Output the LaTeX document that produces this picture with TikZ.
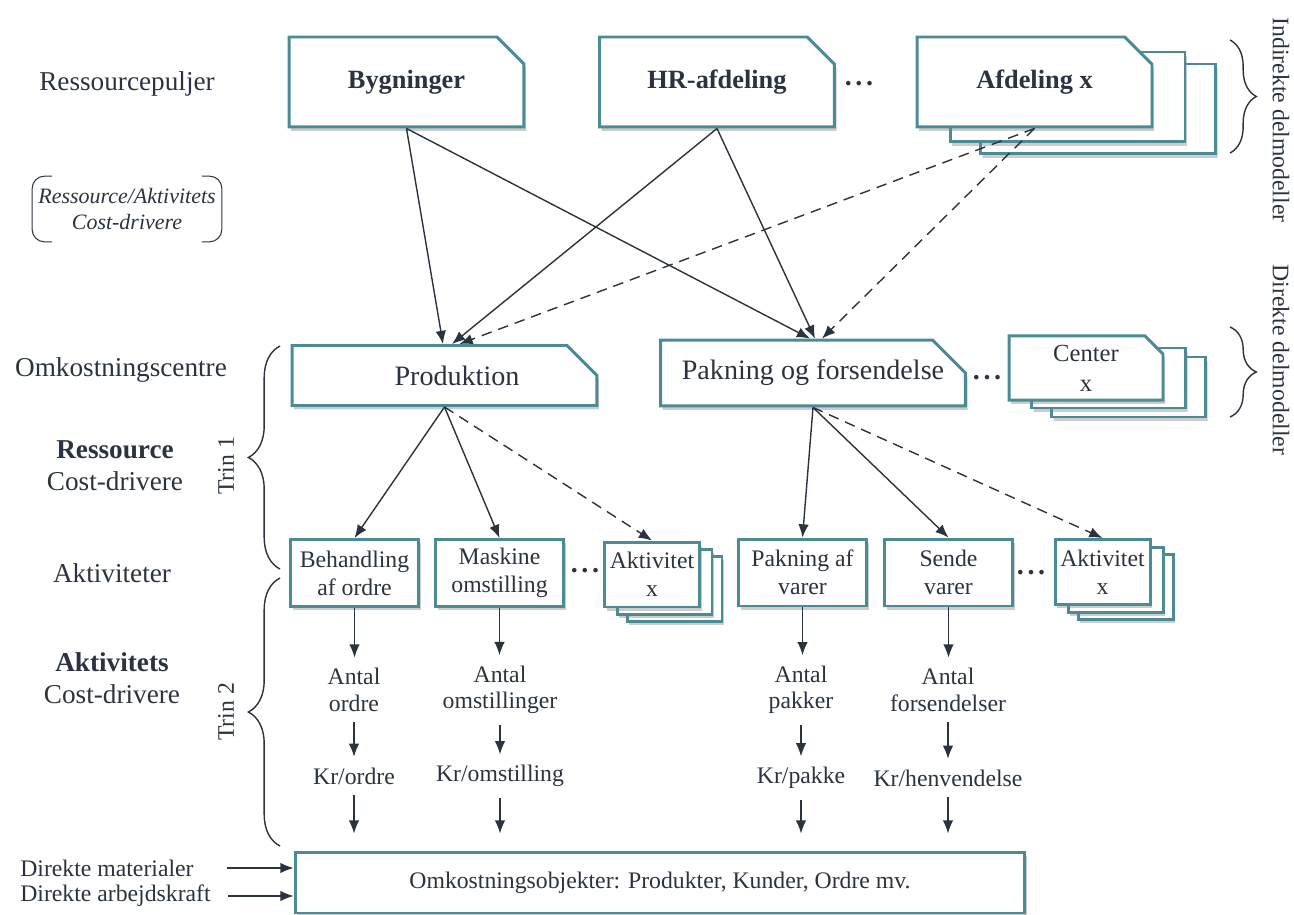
\documentclass[tikz,border=0pt]{standalone}
\usepackage{fontspec}
\setmainfont{Liberation Serif}
\usetikzlibrary{shapes.misc,shadows,decorations.pathreplacing,arrows.meta}
\definecolor{rim}{HTML}{4A8B95}
\definecolor{ink}{HTML}{2B3340}

\begin{document}
\begin{tikzpicture}[x=0.02cm, y=-0.02cm, ink, text=ink,
  frame/.style={draw=rim, line width=1.7pt, fill=white, inner sep=0pt, align=center, drop shadow={shadow xshift=1.2pt, shadow yshift=-2.2pt, opacity=0.4}},
  pool/.style={frame, chamfered rectangle, chamfered rectangle corners=north east, chamfered rectangle xsep=0.3cm, chamfered rectangle ysep=0.3cm, minimum width=4.7cm, minimum height=1.8cm, font=\fontsize{15}{18}\selectfont\bfseries},
  cc/.style={frame, chamfered rectangle, chamfered rectangle corners=north east, chamfered rectangle xsep=0.4cm, chamfered rectangle ysep=0.4cm, minimum width=6.1cm, minimum height=1.2cm, font=\fontsize{16}{19}\selectfont},
  ccx/.style={frame, chamfered rectangle, chamfered rectangle corners=north east, chamfered rectangle xsep=0.18cm, chamfered rectangle ysep=0.18cm, minimum width=3.08cm, minimum height=1.2cm, font=\fontsize{14}{17}\selectfont},
  act/.style={frame, rectangle, minimum width=2.56cm, minimum height=1.34cm, font=\fontsize{13.5}{16}\selectfont},
  actx/.style={frame, rectangle, minimum width=1.9cm, minimum height=1.3cm, font=\fontsize{13.5}{16}\selectfont},
  lbl/.style={align=center, font=\fontsize{15.5}{18}\selectfont},
  drv/.style={align=center, inner sep=6pt, font=\fontsize{13.5}{15}\selectfont},
  side/.style={font=\fontsize{13.5}{16}\selectfont},
  dots/.style={font=\fontsize{16}{18}\selectfont\bfseries, inner sep=0pt},
  brc/.style={decorate, decoration={brace, amplitude=15pt}, line width=0.8pt},
  n/.style={-{Latex[length=7.5pt, width=6pt]}, line width=0.8pt},
  d/.style={n, dashed, dash pattern=on 6pt off 4pt}]
            \useasboundingbox (0,0) rectangle (1294,915);
            % ressourcepuljer
            \node[pool] (byg) at (406.5,82) {Bygninger};
            \node[pool] (hr) at (717,82) {HR-afdeling};
            \node[dots] (dots1) at (859,84) {.\kern2pt.\kern2pt.};
            \node[pool] (afd3) at (1098,109) {};
            \node[pool] (afd2) at (1067.5,97) {};
            \node[pool] (afd) at (1034.5,82) {Afdeling x};

            % omkostningscentre
            \node[cc] (prod) at (444.5,375.5) {\hspace*{0.5cm}Produktion};
            \node[cc] (pak) at (813,373) {Pakning og forsendelse};
            \node[dots] (dots2) at (987,378) {.\kern2pt.\kern2pt.};
            \node[ccx] (cen3) at (1128.5,387) {};
            \node[ccx] (cen2) at (1108.5,378) {};
            \node[ccx] (cen) at (1086,368) {Center\\x};

            % aktiviteter
            \node[act] (beh) at (354.5,573) {Behandling\\af ordre};
            \node[act] (mas) at (499.5,573) {Maskine\\omstilling};
            \node[dots] (dots3) at (585,571) {.\kern2pt.\kern2pt.};
            \node[actx] (akt1c) at (674.5,589) {};
            \node[actx] (akt1b) at (664.5,582) {};
            \node[actx] (akt1) at (652,574.5) {Aktivitet\\x};
            \node[act] (pav) at (802.5,572.5) {Pakning af\\varer};
            \node[act] (sen) at (948.5,572.5) {Sende\\varer};
            \node[dots] (dots4) at (1031,573) {.\kern2pt.\kern2pt.};
            \node[actx] (akt2c) at (1125.5,587) {};
            \node[actx] (akt2b) at (1115.5,580) {};
            \node[actx] (akt2) at (1102.5,572) {Aktivitet\\x};

            % cost-drivere
            \node[drv] (ant1) at (354,690) {Antal\\ordre};
            \node[drv] (kr1) at (354,776) {Kr/ordre};
            \node[drv] (ant2) at (500,690) {Antal\\omstillinger};
            \node[drv] (kr2) at (500,776) {Kr/omstilling};
            \node[drv] (ant3) at (801,690) {Antal\\pakker};
            \node[drv] (kr3) at (801,778) {Kr/pakke};
            \node[drv] (ant4) at (948,690) {Antal\\forsendelser};
            \node[drv] (kr4) at (948,778) {Kr/henvendelse};

            % omkostningsobjekter
            \node[frame, rectangle, minimum width=14.6cm, minimum height=1.22cm, font=\fontsize{13.5}{16}\selectfont] (obj) at (660,882.5) {Omkostningsobjekter: Produkter, Kunder, Ordre mv.};
            \node[side, anchor=west, inner sep=0pt] (dm) at (20,868) {Direkte materialer};
            \node[side, anchor=west, inner sep=0pt] (da) at (20,896) {Direkte arbejdskraft};

            % venstre tekster
            \node[lbl] (rp) at (127,84) {Ressourcepuljer};
            \node[align=center, inner sep=0pt, minimum width=3.78cm, minimum height=1.3cm, font=\fontsize{12.5}{15}\selectfont\itshape] (rad) at (127,209) {Ressource/Aktivitets\\Cost-drivere};
            \node[lbl] (oc) at (121,370) {Omkostningscentre};
            \node[lbl] (rcd) at (115,466) {\textbf{Ressource}\\Cost-drivere};
            \node[lbl] (akv) at (112,573) {Aktiviteter};
            \node[lbl] (acd) at (112,678) {\textbf{Aktivitets}\\Cost-drivere};
            \draw[line width=0.6pt, rounded corners=7pt] ([xshift=0.4cm]rad.north west) -| (rad.west) |- ([xshift=0.4cm]rad.south west);
            \draw[line width=0.6pt, rounded corners=7pt] ([xshift=-0.4cm]rad.north east) -| (rad.east) |- ([xshift=-0.4cm]rad.south east);

            % klammer
            \draw[brc] (1230,40) -- (1230,153);
            \draw[brc] (1230,327) -- (1230,417);
            \draw[brc, decoration={amplitude=18pt}] (280,569) -- (280,346);
            \draw[brc, decoration={amplitude=18pt}] (280,846) -- (280,578);
            \node[side, rotate=-90] (ind) at (1281,120) {Indirekte delmodeller};
            \node[side, rotate=-90] (dir) at (1281,360) {Direkte delmodeller};
            \node[side, rotate=90] (t1) at (226,466) {Trin 1};
            \node[side, rotate=90] (t2) at (226,712) {Trin 2};

            % pile
            \draw[n] (byg.south) -- ([xshift=-0.03cm]prod.north);
            \draw[n] (byg.south) -- ([xshift=-0.06cm]pak.north);
            \draw[n] (hr.south) -- ([xshift=0.15cm]prod.north);
            \draw[n] (hr.south) -- ([xshift=0.04cm]pak.north);
            \draw[d] (afd.south) -- ([xshift=0.3cm]prod.north);
            \draw[d] (afd.south) -- ([xshift=0.18cm]pak.north);

            \draw[n] (prod.south) -- (beh.north);
            \draw[n] (prod.south) -- (mas.north);
            \draw[d] (prod.south) -- (akt1.north);
            \draw[n] (pak.south) -- (pav.north);
            \draw[n] (pak.south) -- (sen.north);
            \draw[d] (pak.south) -- (akt2.north);

            \draw[n] (beh.south) -- (beh.south |- ant1.north);
            \draw[n] (ant1) -- (kr1);
            \draw[n, shorten >=0.34cm] (kr1) -- (kr1 |- obj.north);
            \draw[n] (mas.south) -- (mas.south |- ant2.north);
            \draw[n] (ant2) -- (kr2);
            \draw[n, shorten >=0.34cm] (kr2) -- (kr2 |- obj.north);
            \draw[n] (pav.south) -- (pav.south |- ant3.north);
            \draw[n] (ant3) -- (kr3);
            \draw[n, shorten >=0.34cm] (kr3) -- (kr3 |- obj.north);
            \draw[n] (sen.south) -- (sen.south |- ant4.north);
            \draw[n] (ant4) -- (kr4);
            \draw[n, shorten >=0.34cm] (kr4) -- (kr4 |- obj.north);

            \draw[n] ([xshift=0.66cm]dm.east) -- (dm -| obj.west);
            \draw[n] ([xshift=0.34cm]da.east) -- (da -| obj.west);
        \end{tikzpicture}
\end{document}
